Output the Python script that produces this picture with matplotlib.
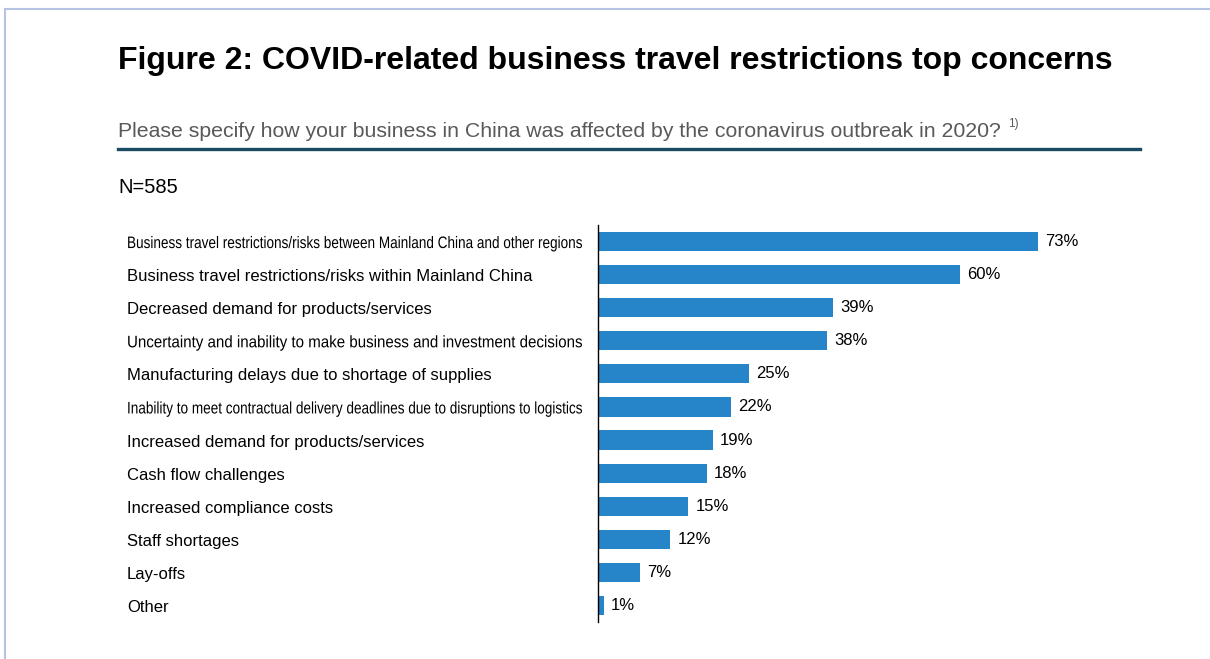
import matplotlib
matplotlib.use('Agg')
import matplotlib.pyplot as plt
from matplotlib.lines import Line2D
from matplotlib.patches import PathPatch
from matplotlib.textpath import TextPath
from matplotlib.font_manager import FontProperties
from matplotlib.transforms import Affine2D

"""Horizontal bar chart of how the coronavirus outbreak affected business in China"""

categories = [
    'Business travel restrictions/risks between Mainland China and other regions',
    'Business travel restrictions/risks within Mainland China',
    'Decreased demand for products/services',
    'Uncertainty and inability to make business and investment decisions',
    'Manufacturing delays due to shortage of supplies',
    'Inability to meet contractual delivery deadlines due to disruptions to logistics',
    'Increased demand for products/services',
    'Cash flow challenges',
    'Increased compliance costs',
    'Staff shortages',
    'Lay-offs',
    'Other',
]
shares = [73, 60, 39, 38, 25, 22, 19, 18, 15, 12, 7, 1]

TITLE = 'Figure 2: COVID-related business travel restrictions top concerns'
SUBTITLE = 'Please specify how your business in China was affected by the coronavirus outbreak in 2020?'
FOOTNOTE_MARK = '1)'
SAMPLE = 'N=585'

W, H = 1210, 659
BAR_COLOR = '#2585C8'
LABEL_SIZE = 12
LABEL_X = 127
LABEL_MAX_W = 455

plt.rcParams['font.family'] = ['Liberation Sans', 'DejaVu Sans']


def px(x, y):
    """pixel position (from top-left) to figure fraction"""
    return x / W, 1 - y / H


def draw_label(fig, text, x, y_base):
    """left aligned label in display pixels; squeezed sideways when too long"""
    size_px = LABEL_SIZE * 100 / 72
    path = TextPath((0, 0), text, size=size_px, prop=FontProperties(family='Liberation Sans'))
    width = path.get_extents().x1
    if width <= LABEL_MAX_W:
        fig.text(x / W, y_base / H, text, fontsize=LABEL_SIZE, va='baseline', ha='left')
        return
    sx = LABEL_MAX_W / width
    patch = PathPatch(path, transform=Affine2D().scale(sx, 1).translate(x, y_base),
                      facecolor='black', edgecolor='none', lw=0)
    fig.add_artist(patch)


def main():
    fig = plt.figure(figsize=(W / 100, H / 100), dpi=100)
    fig.patch.set_facecolor('white')

    # thin frame along the left and top edges
    border = '#B7C3E2'
    fig.add_artist(Line2D([5 / W, 5 / W], [0, 1 - 9 / H], color=border, lw=1.5))
    fig.add_artist(Line2D([5 / W, 1], [1 - 9 / H, 1 - 9 / H], color=border, lw=1.5))

    fig.text(*px(118, 69), TITLE, fontsize=23, fontweight='bold', va='baseline', ha='left')
    sub = fig.text(*px(118, 137), SUBTITLE, fontsize=15.3, color='#595959', va='baseline', ha='left')
    fig.canvas.draw()
    bb = sub.get_window_extent()
    fig.text((bb.x1 + 7) / W, 1 - 127 / H, FOOTNOTE_MARK, fontsize=8.5, color='#595959',
             va='baseline', ha='left')
    fig.add_artist(Line2D([118 / W, 1140 / W], [1 - 149 / H, 1 - 149 / H], color='#1B4A63', lw=2.4))
    fig.text(*px(118, 193), SAMPLE, fontsize=14.5, va='baseline', ha='left')

    # axes spans pixel x 598..1140 and y 225..622
    ax = fig.add_axes([598 / W, 1 - 622 / H, (1140 - 598) / W, (622 - 225) / H])
    ypos = list(range(len(categories)))
    ax.barh(ypos, shares, height=0.58, color=BAR_COLOR)
    ax.set_xlim(0, (1140 - 598) / 6.03)
    ax.set_ylim(len(categories) - 0.5, -0.5)

    for y, v in zip(ypos, shares):
        ax.annotate(f'{v}%', (v, y), xytext=(7, 0), textcoords='offset pixels',
                    va='center', ha='left', fontsize=12)

    ax.set_yticks([])
    ax.set_xticks([])
    for side in ['top', 'right', 'bottom']:
        ax.spines[side].set_visible(False)
    ax.spines['left'].set_color('black')
    ax.spines['left'].set_linewidth(1.0)

    # category labels sit on a baseline a little below each bar centre
    for y, label in zip(ypos, categories):
        y_centre = ax.transData.transform((0, y))[1]
        draw_label(fig, label, LABEL_X, y_centre - 6.5)

    fig.savefig('out.png', dpi=100, facecolor='white')


if __name__ == '__main__':
    main()
